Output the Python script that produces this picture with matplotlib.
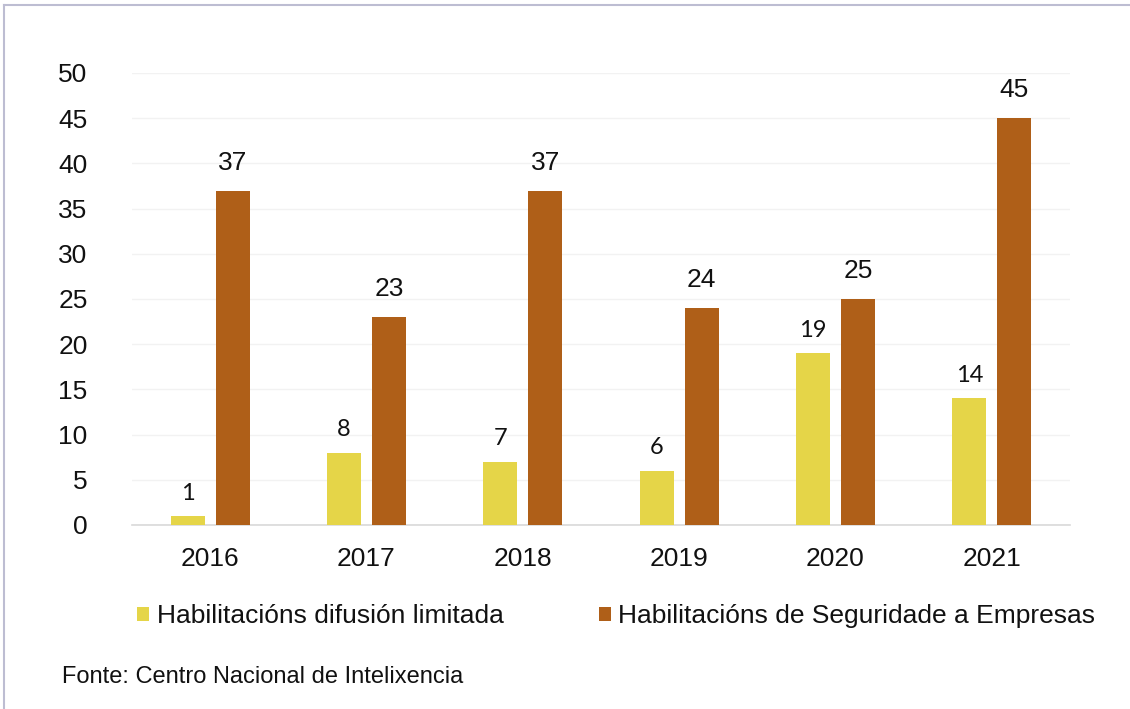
import matplotlib
matplotlib.use("Agg")
import matplotlib.pyplot as plt
from matplotlib.patches import Patch
from matplotlib.lines import Line2D
import numpy as np

years = ["2016", "2017", "2018", "2019", "2020", "2021"]
limitada = [1, 8, 7, 6, 19, 14]
empresas = [37, 23, 37, 24, 25, 45]
series_names = ["Habilitacións difusión limitada", "Habilitacións de Seguridade a Empresas"]
yticks = [0, 5, 10, 15, 20, 25, 30, 35, 40, 45, 50]
source = "Fonte: Centro Nacional de Intelixencia"

c_yellow = "#E5D548"
c_brown = "#AF5F18"

W, H = 1130, 709
fig = plt.figure(figsize=(W / 100, H / 100), dpi=100)
fig.patch.set_facecolor("white")

ax = fig.add_axes([132 / W, 1 - 525 / H, (1070 - 132) / W, (525 - 73) / H])
x = np.arange(len(years))
bw = 0.218
off = 0.144
ax.bar(x - off, limitada, bw, color=c_yellow, zorder=3)
ax.bar(x + off, empresas, bw, color=c_brown, zorder=3)

ax.set_xlim(-0.5, len(years) - 0.5)
ax.set_ylim(0, 50)
ax.set_yticks(yticks)
ax.set_yticklabels([str(t) for t in yticks], fontsize=19, family="Liberation Sans", color="#111111")
ax.set_xticks(x)
ax.set_xticklabels(years, fontsize=19, family="Liberation Sans", color="#111111")
ax.tick_params(axis="both", length=0)
ax.tick_params(axis="y", pad=32)
ax.tick_params(axis="x", pad=16)
for s in ["top", "right", "left"]:
    ax.spines[s].set_visible(False)
ax.spines["bottom"].set_color("#D9D9D9")
ax.spines["bottom"].set_linewidth(1.2)
ax.grid(axis="y", color="#F2F2F2", linewidth=1.0, zorder=0)
ax.set_axisbelow(True)

for xi, v in zip(x, limitada):
    ax.annotate(str(v), (xi - off, v), xytext=(0, 16.5), textcoords="offset points",
                ha="center", va="center", fontsize=17, family="Lato", color="#111111")
for xi, v in zip(x, empresas):
    ax.annotate(str(v), (xi + off, v), xytext=(0, 20), textcoords="offset points",
                ha="center", va="center", fontsize=19, family="Liberation Sans", color="#111111")

handles = [Patch(facecolor=c_yellow, edgecolor="none"), Patch(facecolor=c_brown, edgecolor="none")]
leg = fig.legend(handles, series_names, loc="center left",
                 bbox_to_anchor=(137 / W, 1 - 616 / H), ncol=2, frameon=False,
                 prop={"family": "Liberation Sans", "size": 19},
                 handlelength=0.45, handleheight=0.45, handletextpad=0.3,
                 columnspacing=3.6, borderpad=0, borderaxespad=0)
for t in leg.get_texts():
    t.set_color("#111111")

fig.text(62 / W, 1 - 677 / H, source, fontsize=17, family="Liberation Sans",
         color="#111111", va="center", ha="left")

# frame lines (top and left)
fig.add_artist(Line2D([4 / W, 1], [1 - 5 / H, 1 - 5 / H], transform=fig.transFigure,
                      color="#BDBDD2", linewidth=1.5))
fig.add_artist(Line2D([4 / W, 4 / W], [0, 1 - 5 / H], transform=fig.transFigure,
                      color="#BDBDD2", linewidth=1.5))

fig.savefig("out.png", dpi=100)
